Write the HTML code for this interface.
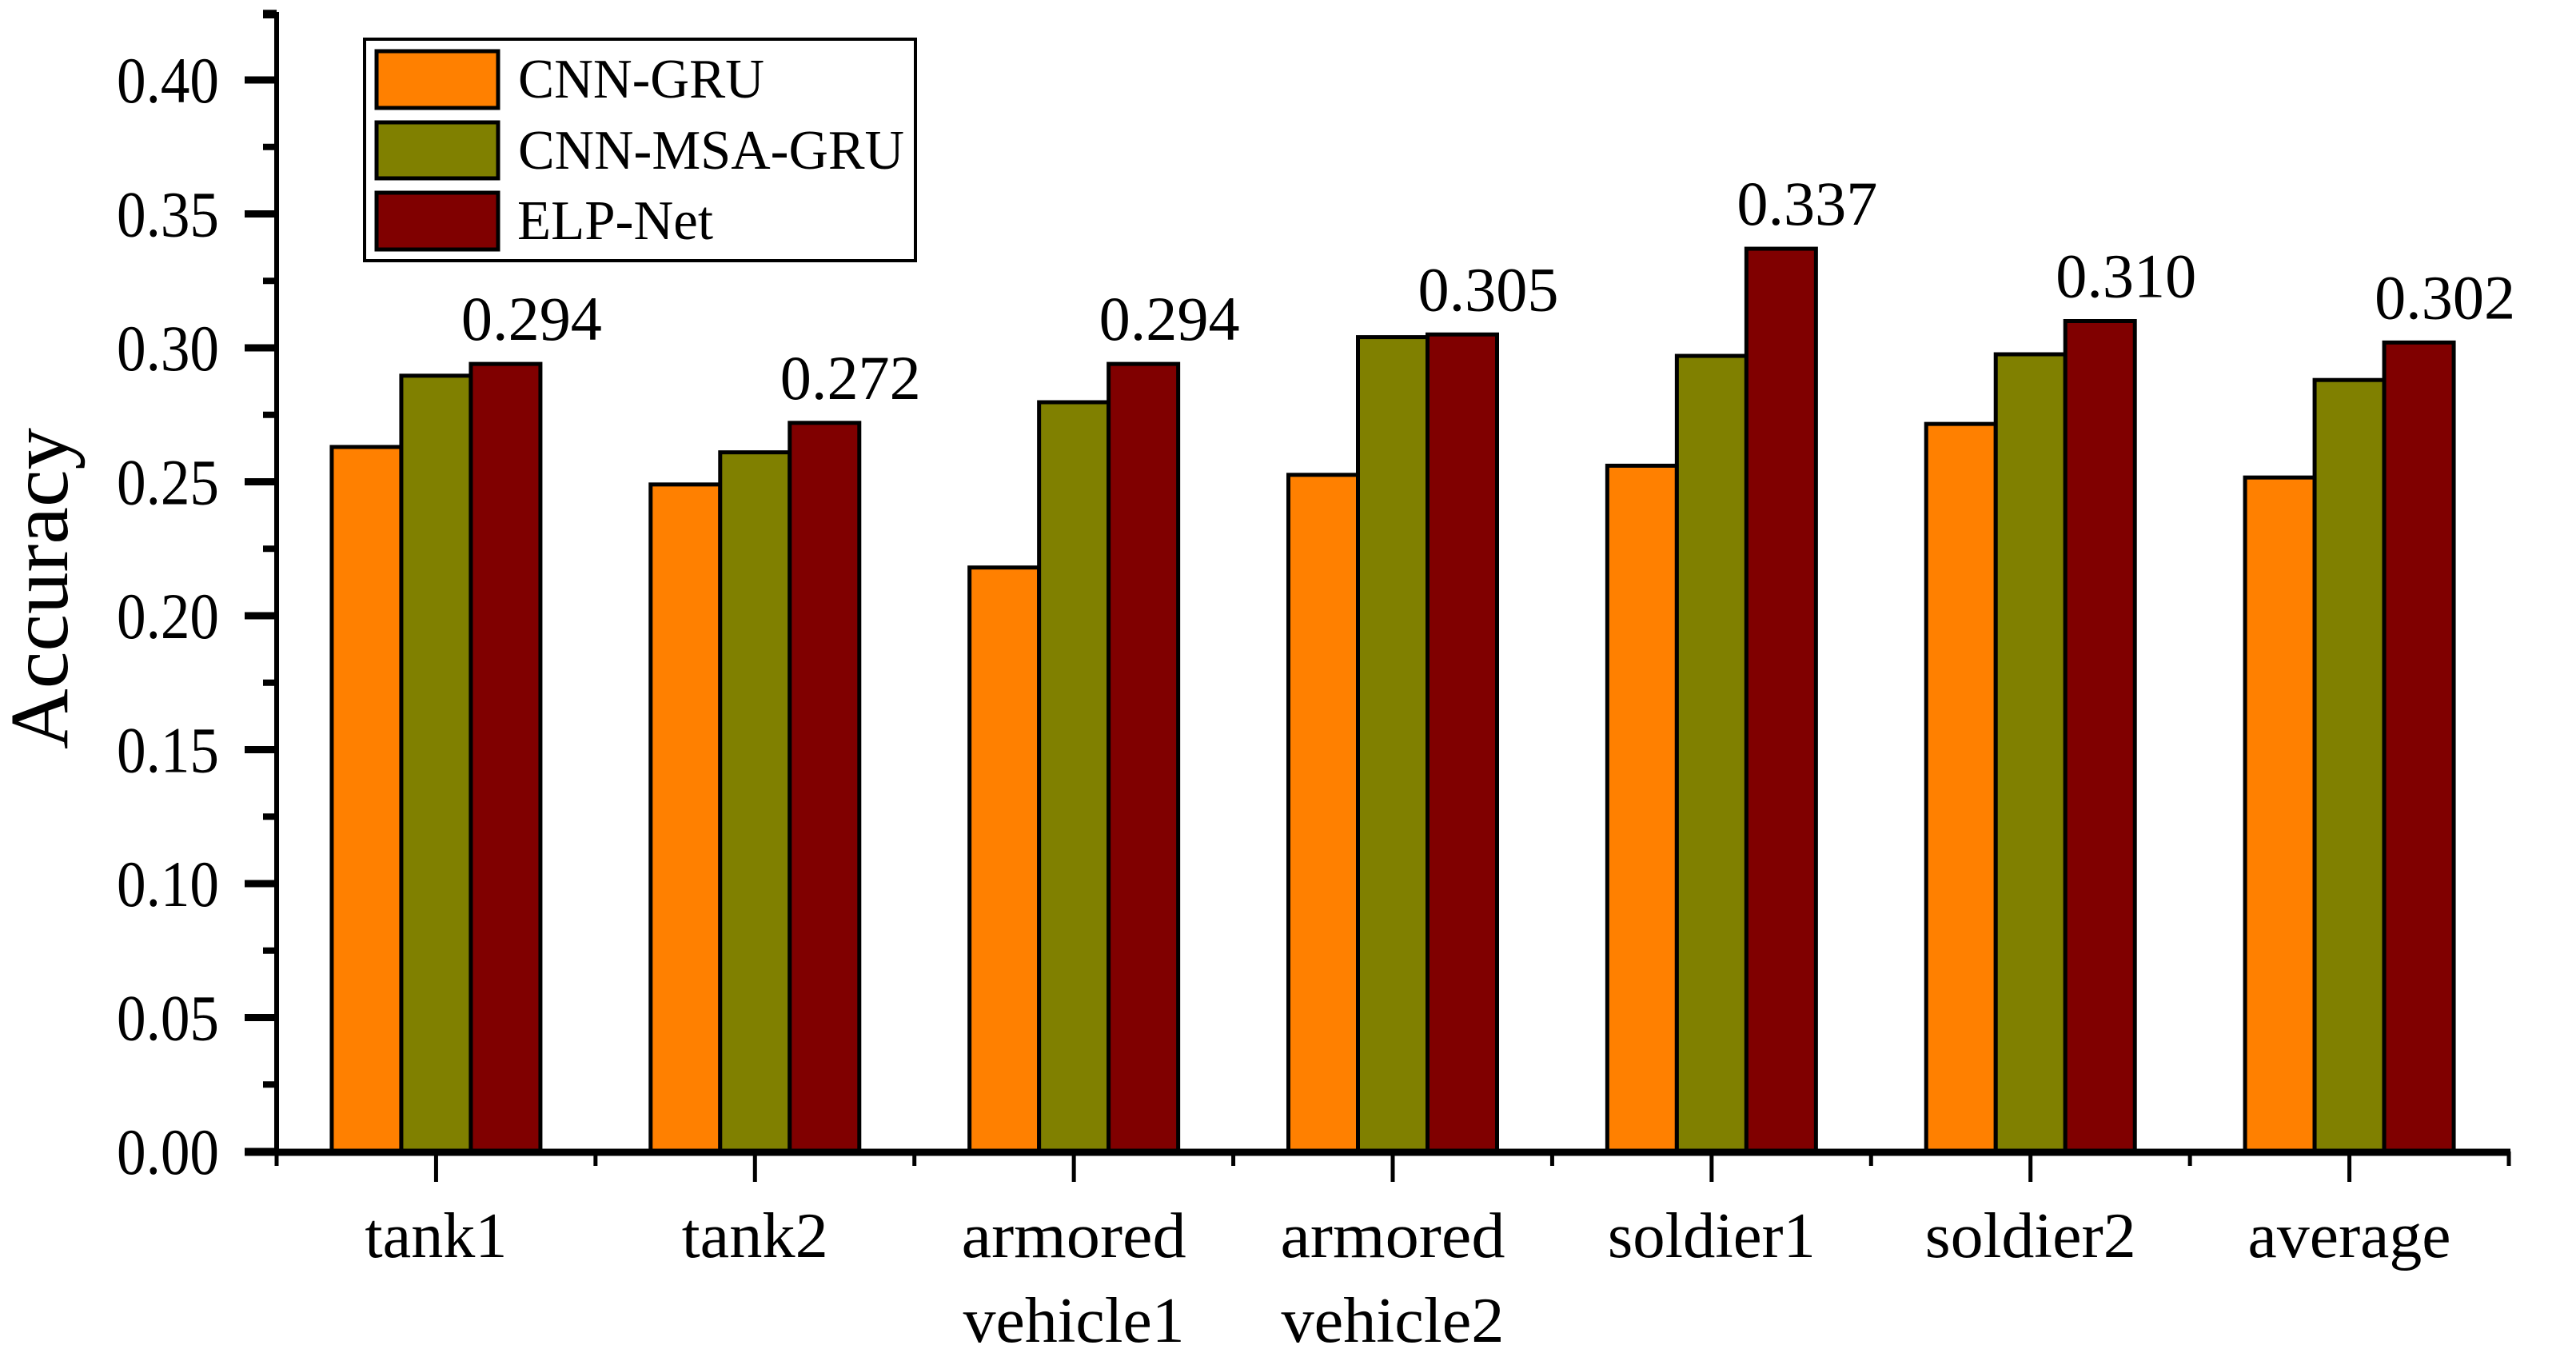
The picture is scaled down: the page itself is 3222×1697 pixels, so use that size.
<!DOCTYPE html>
<html><head><meta charset="utf-8"><style>
html,body{margin:0;padding:0;background:#fff;}
svg{display:block;font-family:"Liberation Serif","Times New Roman",serif;}
</style></head><body>
<svg id="chart" width="3222" height="1697" viewBox="0 0 3222 1697" xmlns="http://www.w3.org/2000/svg">
<g id="bars"></g>
<g id="axes"></g>
<text x="0" y="0" font-size="104" text-anchor="middle" textLength="402" lengthAdjust="spacingAndGlyphs" transform="translate(84,736) rotate(-90)">Accuracy</text>
<g>
<rect x="456" y="49" width="689" height="277" fill="#fff" stroke="#000" stroke-width="4"/>
<g><rect x="471" y="64" width="152" height="71" fill="#FF8000" stroke="#000" stroke-width="5"/><text x="648" y="122" font-size="70" textLength="308" lengthAdjust="spacingAndGlyphs">CNN-GRU</text></g>
<g><rect x="471" y="153" width="152" height="70" fill="#808000" stroke="#000" stroke-width="5"/><text x="648" y="211" font-size="70" textLength="483" lengthAdjust="spacingAndGlyphs">CNN-MSA-GRU</text></g>
<g><rect x="471" y="241" width="152" height="71" fill="#800000" stroke="#000" stroke-width="5"/><text x="647" y="299" font-size="70" textLength="245" lengthAdjust="spacingAndGlyphs">ELP-Net</text></g>
</g>
</svg>
<script>
const categories = [["tank1"],["tank2"],["armored","vehicle1"],["armored","vehicle2"],["soldier1"],["soldier2"],["average"]];
const cnnGru = [0.263,0.249,0.218,0.2526,0.256,0.2716,0.2516];
const cnnMsaGru = [0.2896,0.261,0.2797,0.304,0.297,0.2976,0.288];
const elpNet = [0.294,0.272,0.294,0.305,0.337,0.310,0.302];
const elpLabels = ["0.294","0.272","0.294","0.305","0.337","0.310","0.302"];
const yTicks = [0,0.05,0.10,0.15,0.20,0.25,0.30,0.35,0.40];
const yTickLabels = ["0.00","0.05","0.10","0.15","0.20","0.25","0.30","0.35","0.40"];

const NS="http://www.w3.org/2000/svg";
const X0=346, X1=3138, Y0=1440, YTOP=15, YMAX=(1440-15)/3350;
const n=categories.length, band=(X1-X0)/n, bw=87;
const wordWidth={"tank1":178,"tank2":183,"armored":281,"vehicle1":277,"vehicle2":279,"soldier1":260,"soldier2":264,"average":254};
function yScale(v){return Y0-v*3350;}
function xCenter(i){return X0+band*(i+0.5);}
function mk(tag,attrs,parent){const e=document.createElementNS(NS,tag);for(const k in attrs)e.setAttribute(k,attrs[k]);parent.appendChild(e);return e;}
const gb=document.getElementById('bars'), ga=document.getElementById('axes');
const series=[[cnnGru,"#FF8000","cnn-gru"],[cnnMsaGru,"#808000","cnn-msa-gru"],[elpNet,"#800000","elp-net"]];
for(let i=0;i<n;i++){
  const c=xCenter(i);
  series.forEach((s,j)=>{
    const x=c-1.5*bw+j*bw, y=yScale(s[0][i]);
    const r=mk('rect',{x:x,y:y,width:bw,height:Y0-y,fill:s[1],stroke:"#000","stroke-width":5},gb);
    
    
  });
  const rx=c+0.5*bw;
  const t=mk('text',{x:rx-12,y:yScale(elpNet[i])-30,"font-size":78,textLength:176,lengthAdjust:"spacingAndGlyphs"},gb);
  t.textContent=elpLabels[i];
  
  
  categories[i].forEach((w,k)=>{
    const lt=mk('text',{x:c,y:1572+k*106,"text-anchor":"middle","font-size":80,textLength:wordWidth[w]||200,lengthAdjust:"spacingAndGlyphs"},ga);
    lt.textContent=w;
    
    
  });
  mk('line',{x1:c,y1:Y0,x2:c,y2:1478,stroke:"#000","stroke-width":5},ga);
}
for(let i=0;i<=n;i++){const x=X0+band*i;mk('line',{x1:x,y1:Y0,x2:x,y2:1458,stroke:"#000","stroke-width":5},ga);}
yTicks.forEach((v,i)=>{
  const y=yScale(v);
  mk('line',{x1:306,y1:y,x2:X0,y2:y,stroke:"#000","stroke-width":9},ga);
  const t=mk('text',{x:274,y:y+28,"text-anchor":"end","font-size":82,textLength:128,lengthAdjust:"spacingAndGlyphs"},ga);
  t.textContent=yTickLabels[i];
  
  
  if(v+0.025<YMAX){const ym=yScale(v+0.025);mk('line',{x1:329,y1:ym,x2:X0,y2:ym,stroke:"#000","stroke-width":8},ga);}
});
const ya=mk('line',{x1:X0,y1:YTOP,x2:X0,y2:Y0+4,stroke:"#000","stroke-width":6},ga);


mk('line',{x1:329,y1:YTOP+4,x2:X0,y2:YTOP+4,stroke:"#000","stroke-width":8},ga);
const xa=mk('line',{x1:306,y1:Y0+1,x2:X1+2,y2:Y0+1,stroke:"#000","stroke-width":9},ga);


</script>
</body></html>
